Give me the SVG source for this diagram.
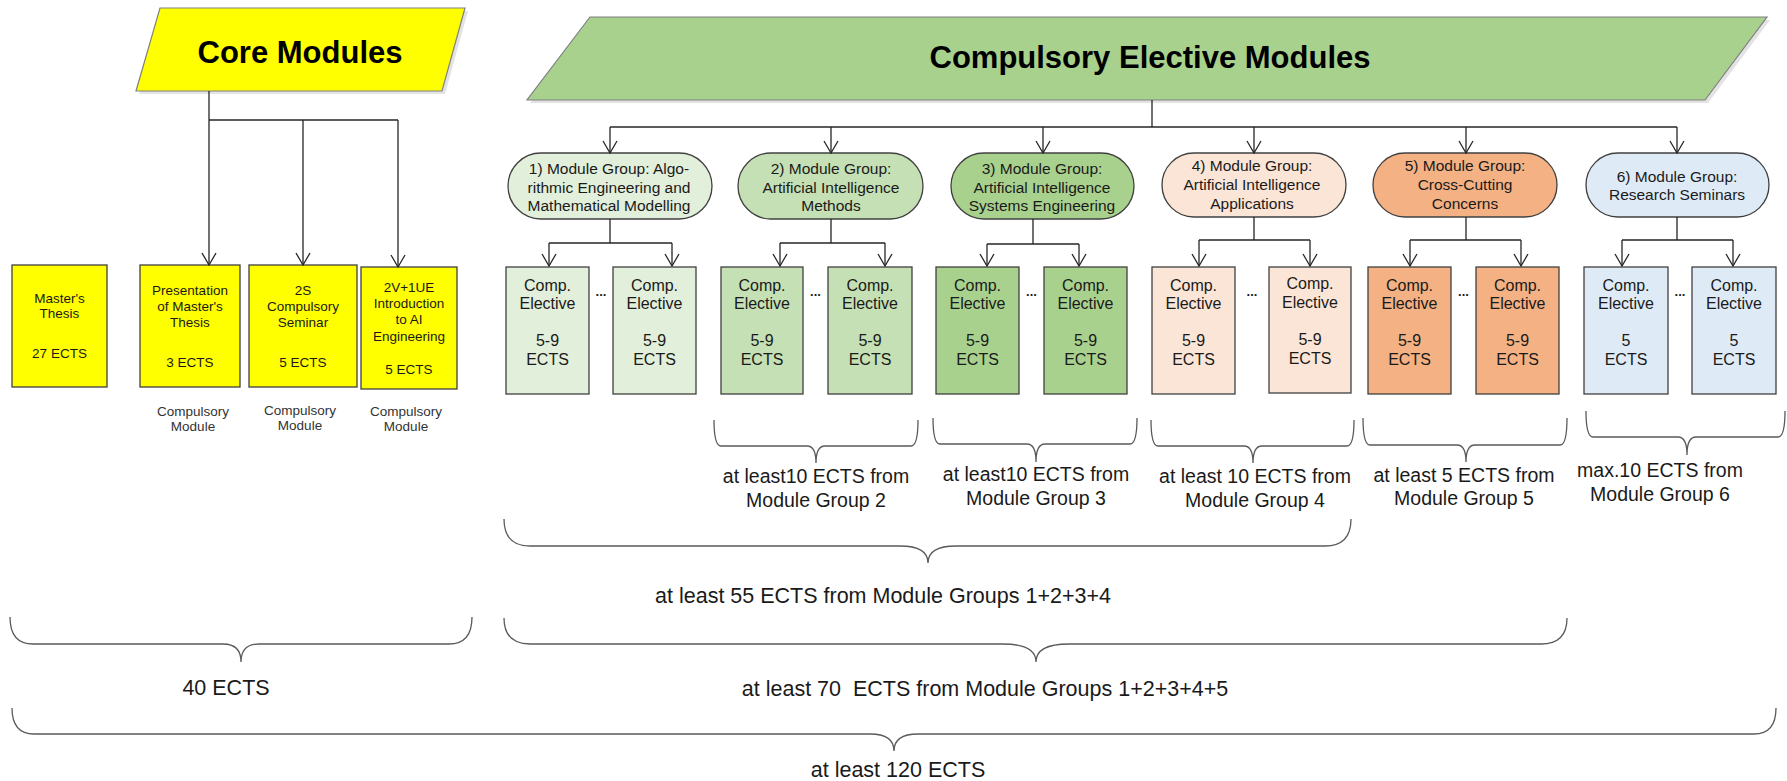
<svg xmlns="http://www.w3.org/2000/svg" width="1787" height="781" viewBox="0 0 1787 781">
<defs>
<style>
.t{font-family:"Liberation Sans",Arial,sans-serif;fill:#1a1a1a;text-anchor:middle}
.title{font-size:31px;font-weight:bold;fill:#000}
.core{font-size:13.5px}
.lbl{font-size:13.5px;fill:#333}
.pill{font-size:15.5px}
.box{font-size:16px}
.dots{font-size:13px;font-weight:bold}
.b1{font-size:19.5px}
.b2{font-size:21.5px}
.shp{stroke:#404040;stroke-width:1.3}
.para{stroke:#808080;stroke-width:1.2}
.shadow{fill:#e3e3e3}
.con{fill:none;stroke:#262626;stroke-width:1.3}
.arr{marker-end:url(#arr)}
.brace{fill:none;stroke:#5a5a5a;stroke-width:1.3}
.y{fill:#ffff00}
.g0{fill:#a9d18e}
.g1{fill:#e2efda}
.g2{fill:#c5e0b4}
.g3{fill:#a9d18e}
.g4{fill:#fbe5d6}
.g5{fill:#f4b183}
.g6{fill:#deebf7}
</style>
<marker id="arr" markerUnits="userSpaceOnUse" viewBox="-14 -9 16 18" markerWidth="16" markerHeight="18" refX="0" refY="0" orient="auto">
<path d="M-12,-7 L0,0 L-12,7" fill="none" stroke="#262626" stroke-width="1.3"/>
</marker>
</defs>
<rect width="1787" height="781" fill="#fff"/>

<!-- Title nodes -->
<g id="core-modules">
<polygon class="shadow" points="163,11 468,11 445,94 139,94"/>
<polygon class="y para" points="160,8 465,8 442,91 136,91"/>
<text class="t title" x="300" y="63">Core Modules</text>
</g>
<g id="compulsory-elective-modules">
<polygon class="shadow" points="593,20 1770,20 1708,103 530,103"/>
<polygon class="g0 para" points="590,17 1767,17 1705,100 527,100"/>
<text class="t title" x="1150" y="68">Compulsory Elective Modules</text>
</g>

<!-- Core module boxes -->
<g id="masters-thesis">
<rect class="y shp" x="12" y="265" width="95" height="122"/>
<text class="t core" x="59.5" y="303">Master's</text>
<text class="t core" x="59.5" y="318">Thesis</text>
<text class="t core" x="59.5" y="358">27 ECTS</text>
</g>
<g id="presentation">
<rect class="y shp" x="140" y="265" width="100" height="122"/>
<text class="t core" x="190" y="295">Presentation</text>
<text class="t core" x="190" y="311">of Master's</text>
<text class="t core" x="190" y="327">Thesis</text>
<text class="t core" x="190" y="367">3 ECTS</text>
<text class="t lbl" x="193" y="416">Compulsory</text>
<text class="t lbl" x="193" y="431">Module</text>
</g>
<g id="seminar">
<rect class="y shp" x="249" y="265" width="108" height="122"/>
<text class="t core" x="303" y="295">2S</text>
<text class="t core" x="303" y="311">Compulsory</text>
<text class="t core" x="303" y="327">Seminar</text>
<text class="t core" x="303" y="367">5 ECTS</text>
<text class="t lbl" x="300" y="415">Compulsory</text>
<text class="t lbl" x="300" y="430">Module</text>
</g>
<g id="intro-ai">
<rect class="y shp" x="361" y="267" width="96" height="122"/>
<text class="t core" x="409" y="292">2V+1UE</text>
<text class="t core" x="409" y="308">Introduction</text>
<text class="t core" x="409" y="324">to AI</text>
<text class="t core" x="409" y="341">Engineering</text>
<text class="t core" x="409" y="374">5 ECTS</text>
<text class="t lbl" x="406" y="416">Compulsory</text>
<text class="t lbl" x="406" y="431">Module</text>
</g>

<!-- Module groups -->
<g id="group1">
<rect class="g1 shp" x="508" y="153" width="204" height="66" rx="33"/>
<text class="t pill" x="609" y="174">1) Module Group: Algo-</text>
<text class="t pill" x="609" y="193">rithmic Engineering and</text>
<text class="t pill" x="609" y="211">Mathematical Modelling</text>
</g>
<g id="group2">
<rect class="g2 shp" x="738" y="153" width="185" height="66" rx="33"/>
<text class="t pill" x="831" y="174">2) Module Group:</text>
<text class="t pill" x="831" y="193">Artificial Intelligence</text>
<text class="t pill" x="831" y="211">Methods</text>
</g>
<g id="group3">
<rect class="g3 shp" x="951" y="153" width="183" height="66" rx="33"/>
<text class="t pill" x="1042" y="174">3) Module Group:</text>
<text class="t pill" x="1042" y="193">Artificial Intelligence</text>
<text class="t pill" x="1042" y="211">Systems Engineering</text>
</g>
<g id="group4">
<rect class="g4 shp" x="1162" y="153" width="184" height="64" rx="32"/>
<text class="t pill" x="1252" y="171">4) Module Group:</text>
<text class="t pill" x="1252" y="190">Artificial Intelligence</text>
<text class="t pill" x="1252" y="209">Applications</text>
</g>
<g id="group5">
<rect class="g5 shp" x="1373" y="153" width="184" height="64" rx="32"/>
<text class="t pill" x="1465" y="171">5) Module Group:</text>
<text class="t pill" x="1465" y="190">Cross-Cutting</text>
<text class="t pill" x="1465" y="209">Concerns</text>
</g>
<g id="group6">
<rect class="g6 shp" x="1586" y="153" width="183" height="64" rx="32"/>
<text class="t pill" x="1677" y="182">6) Module Group:</text>
<text class="t pill" x="1677" y="200">Research Seminars</text>
</g>

<!-- Compulsory elective boxes -->
<g id="g1-elective-a">
<rect class="g1 shp" x="506" y="267" width="83" height="127"/>
<text class="t box" x="547.5" y="291">Comp.</text><text class="t box" x="547.5" y="309">Elective</text>
<text class="t box" x="547.5" y="346">5-9</text><text class="t box" x="547.5" y="365">ECTS</text>
</g>
<g id="g1-elective-b">
<rect class="g1 shp" x="613" y="267" width="83" height="127"/>
<text class="t box" x="654.5" y="291">Comp.</text><text class="t box" x="654.5" y="309">Elective</text>
<text class="t box" x="654.5" y="346">5-9</text><text class="t box" x="654.5" y="365">ECTS</text>
</g>
<g id="g2-elective-a">
<rect class="g2 shp" x="721" y="267" width="82" height="127"/>
<text class="t box" x="762" y="291">Comp.</text><text class="t box" x="762" y="309">Elective</text>
<text class="t box" x="762" y="346">5-9</text><text class="t box" x="762" y="365">ECTS</text>
</g>
<g id="g2-elective-b">
<rect class="g2 shp" x="828" y="267" width="84" height="127"/>
<text class="t box" x="870" y="291">Comp.</text><text class="t box" x="870" y="309">Elective</text>
<text class="t box" x="870" y="346">5-9</text><text class="t box" x="870" y="365">ECTS</text>
</g>
<g id="g3-elective-a">
<rect class="g3 shp" x="936" y="267" width="83" height="127"/>
<text class="t box" x="977.5" y="291">Comp.</text><text class="t box" x="977.5" y="309">Elective</text>
<text class="t box" x="977.5" y="346">5-9</text><text class="t box" x="977.5" y="365">ECTS</text>
</g>
<g id="g3-elective-b">
<rect class="g3 shp" x="1044" y="267" width="83" height="127"/>
<text class="t box" x="1085.5" y="291">Comp.</text><text class="t box" x="1085.5" y="309">Elective</text>
<text class="t box" x="1085.5" y="346">5-9</text><text class="t box" x="1085.5" y="365">ECTS</text>
</g>
<g id="g4-elective-a">
<rect class="g4 shp" x="1152" y="267" width="83" height="127"/>
<text class="t box" x="1193.5" y="291">Comp.</text><text class="t box" x="1193.5" y="309">Elective</text>
<text class="t box" x="1193.5" y="346">5-9</text><text class="t box" x="1193.5" y="365">ECTS</text>
</g>
<g id="g4-elective-b">
<rect class="g4 shp" x="1269" y="267" width="82" height="126"/>
<text class="t box" x="1310" y="289">Comp.</text><text class="t box" x="1310" y="308">Elective</text>
<text class="t box" x="1310" y="345">5-9</text><text class="t box" x="1310" y="364">ECTS</text>
</g>
<g id="g5-elective-a">
<rect class="g5 shp" x="1368" y="267" width="83" height="127"/>
<text class="t box" x="1409.5" y="291">Comp.</text><text class="t box" x="1409.5" y="309">Elective</text>
<text class="t box" x="1409.5" y="346">5-9</text><text class="t box" x="1409.5" y="365">ECTS</text>
</g>
<g id="g5-elective-b">
<rect class="g5 shp" x="1476" y="267" width="83" height="127"/>
<text class="t box" x="1517.5" y="291">Comp.</text><text class="t box" x="1517.5" y="309">Elective</text>
<text class="t box" x="1517.5" y="346">5-9</text><text class="t box" x="1517.5" y="365">ECTS</text>
</g>
<g id="g6-elective-a">
<rect class="g6 shp" x="1584" y="267" width="84" height="127"/>
<text class="t box" x="1626" y="291">Comp.</text><text class="t box" x="1626" y="309">Elective</text>
<text class="t box" x="1626" y="346">5</text><text class="t box" x="1626" y="365">ECTS</text>
</g>
<g id="g6-elective-b">
<rect class="g6 shp" x="1692" y="267" width="84" height="127"/>
<text class="t box" x="1734" y="291">Comp.</text><text class="t box" x="1734" y="309">Elective</text>
<text class="t box" x="1734" y="346">5</text><text class="t box" x="1734" y="365">ECTS</text>
</g>

<g id="ellipses">
<text class="t dots" x="601" y="296">...</text>
<text class="t dots" x="815.5" y="296">...</text>
<text class="t dots" x="1031.5" y="296">...</text>
<text class="t dots" x="1252" y="296">...</text>
<text class="t dots" x="1463.5" y="296">...</text>
<text class="t dots" x="1680" y="296">...</text>
</g>

<!-- Connectors -->
<g id="connectors">
<path class="con arr" d="M209,91 V265"/>
<path class="con" d="M209,120 H398"/>
<path class="con arr" d="M303,120 V265"/>
<path class="con arr" d="M398,120 V267"/>

<path class="con" d="M1152,100 V127"/>
<path class="con" d="M610,127 H1677"/>
<path class="con arr" d="M610,127 V153"/>
<path class="con arr" d="M831,127 V153"/>
<path class="con arr" d="M1043,127 V153"/>
<path class="con arr" d="M1254,127 V153"/>
<path class="con arr" d="M1466,127 V153"/>
<path class="con arr" d="M1677,127 V153"/>

<path class="con" d="M610,219 V243 M549,243 H672"/>
<path class="con arr" d="M549,243 V266"/>
<path class="con arr" d="M672,243 V266"/>
<path class="con" d="M831,219 V243 M780,243 H885"/>
<path class="con arr" d="M780,243 V266"/>
<path class="con arr" d="M885,243 V266"/>
<path class="con" d="M1033,219 V244 M987,244 H1079"/>
<path class="con arr" d="M987,244 V266"/>
<path class="con arr" d="M1079,244 V266"/>
<path class="con" d="M1254,217 V240 M1199,240 H1310"/>
<path class="con arr" d="M1199,240 V266"/>
<path class="con arr" d="M1310,240 V266"/>
<path class="con" d="M1466,217 V240 M1410,240 H1521"/>
<path class="con arr" d="M1410,240 V266"/>
<path class="con arr" d="M1521,240 V266"/>
<path class="con" d="M1677,217 V240 M1622,240 H1733"/>
<path class="con arr" d="M1622,240 V266"/>
<path class="con arr" d="M1733,240 V266"/>
</g>

<!-- Braces -->
<g id="braces">
<path class="brace" d="M714,420 Q714,446 721,446 L807,446 Q816,446 816,463 Q816,446 825,446 L911,446 Q918,446 918,420"/>
<path class="brace" d="M933,418 Q933,444 940,444 L1027,444 Q1036,444 1036,462 Q1036,444 1045,444 L1130,444 Q1137,444 1137,418"/>
<path class="brace" d="M1151,420 Q1151,446 1158,446 L1244,446 Q1253,446 1253,463 Q1253,446 1262,446 L1347,446 Q1354,446 1354,420"/>
<path class="brace" d="M1363,418 Q1363,445 1370,445 L1457,445 Q1466,445 1466,462 Q1466,445 1475,445 L1560,445 Q1567,445 1567,418"/>
<path class="brace" d="M1586,411 Q1586,437 1593,437 L1678,437 Q1687,437 1687,455 Q1687,437 1696,437 L1778,437 Q1785,437 1785,411"/>
<path class="brace" d="M10,617 Q10,644 33,644 L223,644 Q241,644 241,662 Q241,644 259,644 L449,644 Q472,644 472,617"/>
<path class="brace" d="M504,519 Q504,546 530,546 L900,546 Q928,546 928,563 Q928,546 956,546 L1325,546 Q1351,546 1351,519"/>
<path class="brace" d="M504,618 Q504,644 530,644 L1003,644 Q1036,644 1036,662 Q1036,644 1069,644 L1541,644 Q1567,644 1567,618"/>
<path class="brace" d="M12,708 Q12,734 34,734 L870,734 Q894,734 894,751 Q894,734 918,734 L1754,734 Q1776,734 1776,708"/>
</g>

<g id="brace-labels">
<text class="t b1" x="816" y="483">at least10 ECTS from</text>
<text class="t b1" x="816" y="507">Module Group 2</text>
<text class="t b1" x="1036" y="481">at least10 ECTS from</text>
<text class="t b1" x="1036" y="505">Module Group 3</text>
<text class="t b1" x="1255" y="483">at least 10 ECTS from</text>
<text class="t b1" x="1255" y="507">Module Group 4</text>
<text class="t b1" x="1464" y="482">at least 5 ECTS from</text>
<text class="t b1" x="1464" y="505">Module Group 5</text>
<text class="t b1" x="1660" y="477">max.10 ECTS from</text>
<text class="t b1" x="1660" y="501">Module Group 6</text>
<text class="t b2" x="226" y="695">40 ECTS</text>
<text class="t b2" x="883" y="603">at least 55 ECTS from Module Groups 1+2+3+4</text>
<text class="t b2" x="985" y="696" xml:space="preserve">at least 70  ECTS from Module Groups 1+2+3+4+5</text>
<text class="t b2" x="898" y="777">at least 120 ECTS</text>
</g>
</svg>
